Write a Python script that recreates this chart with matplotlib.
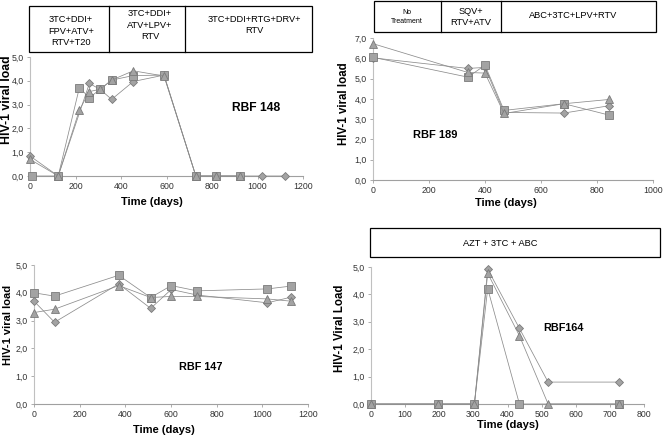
import matplotlib
matplotlib.use("Agg")
import matplotlib.pyplot as plt
from matplotlib.patches import Rectangle
from matplotlib.lines import Line2D

plt.rcParams['font.family'] = ['Liberation Sans', 'DejaVu Sans']

W, H = 664, 437

# ---------------- data ----------------
# RBF 148
p148_d_x = [0, 124, 261, 308, 359, 454, 589, 729, 817, 924, 1020, 1122]
p148_d_y = [0.84, 0.0, 3.89, 3.64, 3.22, 3.97, 4.24, 0.0, 0.0, 0.0, 0.0, 0.0]
p148_s_x = [8, 124, 217, 261, 308, 359, 454, 589, 729, 817, 924]
p148_s_y = [0.0, 0.0, 3.71, 3.29, 3.64, 4.03, 4.22, 4.24, 0.0, 0.0, 0.0]
p148_t_x = [0, 124, 217, 261, 308, 359, 454, 589, 729, 817, 924]
p148_t_y = [0.70, 0.0, 2.77, 3.55, 3.64, 4.03, 4.42, 4.20, 0.0, 0.0, 0.0]

# RBF 189
p189_x = [0, 339, 400, 468, 682, 843]
p189_d_y = [6.02, 5.50, 5.55, 3.33, 3.30, 3.66]
p189_s_y = [6.05, 5.07, 5.66, 3.43, 3.76, 3.20]
p189_t_y = [6.72, 5.30, 5.27, 3.28, 3.76, 3.97]

# RBF 147
p147_x = [0, 90, 371, 511, 601, 714, 1022, 1124]
p147_d_y = [3.70, 2.94, 4.32, 3.44, 4.12, 3.92, 3.64, 3.84]
p147_s_y = [4.00, 3.88, 4.63, 3.83, 4.26, 4.07, 4.14, 4.24]
p147_t_y = [3.29, 3.41, 4.26, 3.83, 3.87, 3.87, 3.78, 3.70]

# RBF164
p164_d_x = [0, 196, 303, 342, 435, 519, 728]
p164_d_y = [0.0, 0.0, 0.0, 4.92, 2.76, 0.80, 0.80]
p164_s_x = [0, 196, 303, 342, 435, 728]
p164_s_y = [0.0, 0.0, 0.0, 4.21, 0.0, 0.0]
p164_t_x = [0, 196, 303, 342, 435, 519, 728]
p164_t_y = [0.0, 0.0, 0.0, 4.77, 2.49, 0.0, 0.0]

# ---------------- styling ----------------
FACE = '#a3a3a3'
EDGE = '#7a7a7a'
LINE = '#8c8c8c'

fig = plt.figure(figsize=(W / 100, H / 100), dpi=100)


def fx(x):
    return x / W


def fy(y):
    return 1 - y / H


def make_ax(l, r, t, b):
    return fig.add_axes([fx(l), fy(b), fx(r) - fx(l), fy(t) - fy(b)])


def style(ax, xmax, xstep, ymax, xlabel, ylabel, xl_pos, yl_pos, ylsize=8.3):
    ax.set_xlim(0, xmax)
    ax.set_ylim(0, ymax)
    ax.set_xticks(range(0, xmax + 1, xstep))
    ax.set_yticks(range(0, ymax + 1))
    ax.set_yticklabels([f"{v},0" for v in range(0, ymax + 1)])
    for s in ['top', 'right']:
        ax.spines[s].set_visible(False)
    ax.spines['left'].set_color('#c0c0c0')
    ax.spines['bottom'].set_color('#a0a0a0')
    ax.spines['left'].set_linewidth(0.8)
    ax.spines['bottom'].set_linewidth(0.8)
    ax.tick_params(axis='both', labelsize=6.3, colors='#a0a0a0',
                   labelcolor='#333333', length=2.5, width=0.6, pad=2)
    ax.set_xlabel(xlabel, fontsize=8, fontweight='bold')
    ax.set_ylabel(ylabel, fontsize=ylsize, fontweight='bold')
    ax.xaxis.set_label_coords(*xl_pos)
    ax.yaxis.set_label_coords(*yl_pos)
    ax.patch.set_alpha(0)


def series(ax, x, y, marker, ms):
    ax.plot(x, y, color=LINE, lw=0.55, marker=marker, ms=ms,
            mfc=FACE, mec=EDGE, mew=0.6, clip_on=False, zorder=3)


def draw_box(l, r, t, b, dividers):
    fig.add_artist(Rectangle((fx(l), fy(b)), fx(r) - fx(l), fy(t) - fy(b),
                             transform=fig.transFigure, fill=False,
                             ec='black', lw=0.9))
    for d in dividers:
        fig.add_artist(Line2D([fx(d), fx(d)], [fy(t), fy(b)],
                              transform=fig.transFigure, color='black', lw=0.9))


def box_text(x, y, s, size=6.7):
    fig.text(fx(x), fy(y), s, ha='center', va='center', fontsize=size,
             linespacing=1.3)


# ---------------- panel 1: RBF 148 ----------------
ax1 = make_ax(30, 303, 57, 176)
style(ax1, 1200, 200, 5, 'Time (days)', 'HIV-1 viral load',
      (0.446, -0.175), (-0.064, 0.64), ylsize=8.8)
series(ax1, p148_d_x, p148_d_y, 'D', 4.2)
series(ax1, p148_s_x, p148_s_y, 's', 5.2)
series(ax1, p148_t_x, p148_t_y, '^', 5.6)
ax1.text(993, 2.86, 'RBF 148', fontsize=8.7, fontweight='bold',
         ha='center', va='center')
draw_box(29, 312, 6, 52, [109, 185])
box_text(71, 31, '3TC+DDI+\nFPV+ATV+\nRTV+T20')
box_text(150, 25, '3TC+DDI+\nATV+LPV+\nRTV')
box_text(254, 25, '3TC+DDI+RTG+DRV+\nRTV')

# ---------------- panel 2: RBF 189 ----------------
ax2 = make_ax(373, 653, 38, 180)
style(ax2, 1000, 200, 7, 'Time (days)', 'HIV-1 viral load',
      (0.475, -0.125), (-0.082, 0.535))
series(ax2, p189_x, p189_d_y, 'D', 4.2)
series(ax2, p189_x, p189_s_y, 's', 5.2)
series(ax2, p189_x, p189_t_y, '^', 5.6)
ax2.text(221, 2.22, 'RBF 189', fontsize=8, fontweight='bold',
         ha='center', va='center')
draw_box(374, 656, 1, 32, [441, 501])
box_text(407, 17, 'No\nTreatment', size=5)
box_text(471, 17, 'SQV+\nRTV+ATV')
box_text(573, 15, 'ABC+3TC+LPV+RTV')

# ---------------- panel 3: RBF 147 ----------------
ax3 = make_ax(34, 308, 265, 404)
style(ax3, 1200, 200, 5, 'Time (days)', 'HIV-1 viral load',
      (0.474, -0.15), (-0.078, 0.57), ylsize=8)
series(ax3, p147_x, p147_d_y, 'D', 4.2)
series(ax3, p147_x, p147_s_y, 's', 5.2)
series(ax3, p147_x, p147_t_y, '^', 5.6)
ax3.text(731, 1.33, 'RBF 147', fontsize=7.8, fontweight='bold',
         ha='center', va='center')

# ---------------- panel 4: RBF164 ----------------
ax4 = make_ax(371, 644, 267, 404)
style(ax4, 800, 100, 5, 'Time (days)', 'HIV-1 Viral Load',
      (0.5, -0.115), (-0.092, 0.55))
series(ax4, p164_d_x, p164_d_y, 'D', 4.2)
series(ax4, p164_s_x, p164_s_y, 's', 5.2)
series(ax4, p164_t_x, p164_t_y, '^', 5.6)
ax4.text(563, 2.77, 'RBF164', fontsize=7.8, fontweight='bold',
         ha='center', va='center')
draw_box(370, 660, 228, 257, [])
box_text(500, 244, 'AZT + 3TC + ABC')

fig.savefig('out.png', dpi=100)
